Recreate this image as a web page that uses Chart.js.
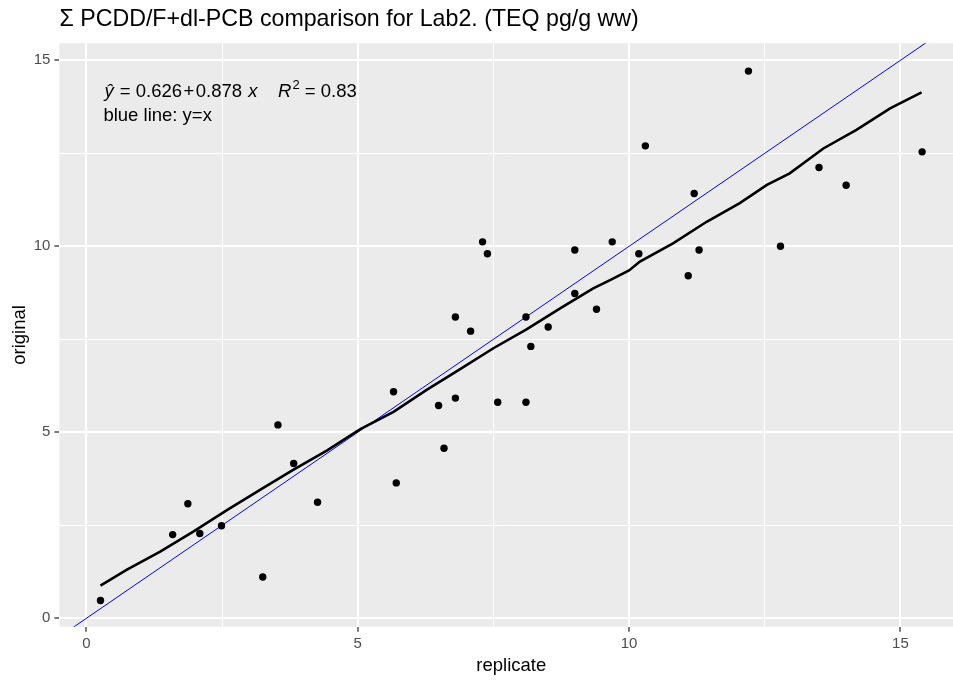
<!DOCTYPE html>
<html><head><meta charset="utf-8">
<script src="https://cdn.jsdelivr.net/npm/chart.js@4"></script>
<style>html,body{margin:0;padding:0;background:#fff;overflow:hidden;width:953px;height:680px}canvas{display:block}</style>
</head><body>
<canvas id="c" width="972" height="680"></canvas>
<script>
const titleText = 'Σ PCDD/F+dl-PCB comparison for Lab2. (TEQ pg/g ww)';
const xAxisTitle = 'replicate';
const yAxisTitle = 'original';
const replicate = [0.26, 1.59, 1.87, 2.09, 2.49, 3.25, 3.53, 3.82, 4.26, 5.66, 5.71, 6.49, 6.59, 6.80, 6.80, 7.08, 7.30, 7.39, 7.58, 8.10, 8.10, 8.19, 8.51, 9.00, 9.00, 9.40, 9.69, 10.18, 10.30, 11.09, 11.20, 11.29, 12.20, 12.79, 13.50, 14.00, 15.40];
const original  = [0.48, 2.25, 3.08, 2.28, 2.49, 1.11, 5.20, 4.16, 3.12, 6.09, 3.64, 5.72, 4.57, 5.92, 8.10, 7.72, 10.12, 9.80, 5.81, 5.81, 8.10, 7.31, 7.83, 9.90, 8.73, 8.31, 10.12, 9.80, 12.70, 9.21, 11.42, 9.90, 14.71, 10.00, 12.12, 11.64, 12.54];
const smoothX = [0.26, 0.74, 1.36, 1.97, 2.59, 3.20, 3.81, 4.43, 5.04, 5.66, 6.27, 6.88, 7.50, 8.11, 8.73, 9.34, 9.65, 10.00, 10.20, 10.81, 11.43, 12.04, 12.54, 12.96, 13.58, 14.19, 14.81, 15.39];
const smoothY = [0.88, 1.30, 1.79, 2.33, 2.91, 3.45, 3.99, 4.51, 5.08, 5.55, 6.14, 6.69, 7.26, 7.77, 8.33, 8.87, 9.09, 9.35, 9.59, 10.08, 10.66, 11.16, 11.65, 11.96, 12.63, 13.13, 13.71, 14.14];
const identityLine = [-1, 17];
const majorTicks = [0, 5, 10, 15];
const minorTicks = [2.5, 7.5, 12.5];
const xRange = [-0.497, 16.157];
const yRange = [-0.228, 15.46];
const eqIntercept = '0.626', eqSlope = '0.878', rSquared = '0.83';
const noteText = 'blue line: y=x';

const FONT = '"Liberation Sans", Arial, Helvetica, sans-serif';
const allTicks = majorTicks.concat(minorTicks).sort((a, b) => a - b);
const isMajor = v => majorTicks.includes(v);

const decor = {
  id: 'decor',
  beforeDraw(chart) {
    const {ctx, chartArea: a} = chart;
    ctx.save();
    ctx.fillStyle = '#ffffff';
    ctx.fillRect(0, 0, chart.width, chart.height);
    ctx.fillStyle = '#EBEBEB';
    ctx.fillRect(a.left, a.top, a.right - a.left, a.bottom - a.top);
    ctx.restore();
  },
  afterDraw(chart) {
    const {ctx, chartArea: a} = chart;
    ctx.save();
    ctx.fillStyle = '#000';
    ctx.textBaseline = 'alphabetic';
    ctx.textAlign = 'left';
    ctx.font = `23.2px ${FONT}`;
    ctx.fillText(titleText, a.left, 26);

    const reg = `18.5px ${FONT}`, ita = `italic 18.5px ${FONT}`, sup = `13px ${FONT}`;
    let cx = a.left + 45;
    let base = a.top + 53.5;
    const seg = (t, f, dy = 0, gap = 0) => { ctx.font = f; ctx.fillText(t, cx, base + dy); cx += ctx.measureText(t).width + gap; };
    seg('ŷ', ita, 0, 1);
    seg(' = ' + eqIntercept, reg, 0, 1.5);
    seg('+', reg, 0, 1.5);
    seg(eqSlope + ' ', reg, 0, 1);
    seg('x', ita);
    seg('    ', reg, 0, 0);
    seg('R', ita, 0, 1);
    seg('2', sup, -8);
    seg(' = ' + rSquared, reg);

    cx = a.left + 44;
    base = a.top + 77.5;
    seg(noteText, reg);
    ctx.restore();
  }
};

function gridOpts() {
  return {
    color: '#ffffff',
    lineWidth: c => (c.tick && isMajor(c.tick.value)) ? 2 : 1,
    tickColor: c => (c.tick && isMajor(c.tick.value)) ? '#333333' : 'rgba(0,0,0,0)',
    tickLength: 5,
    tickWidth: 1.3,
    drawTicks: true
  };
}

new Chart(document.getElementById('c'), {
  type: 'scatter',
  data: {
    datasets: [
      {
        label: 'points',
        data: replicate.map((x, i) => ({x, y: original[i]})),
        backgroundColor: '#000', borderColor: '#000', borderWidth: 0,
        pointRadius: 3.7, order: 0
      },
      {
        label: 'smooth',
        data: smoothX.map((x, i) => ({x, y: smoothY[i]})),
        showLine: true, borderColor: '#000', borderWidth: 2.6,
        pointRadius: 0, tension: 0, order: 1
      },
      {
        label: 'y=x',
        data: identityLine.map(v => ({x: v, y: v})),
        showLine: true, borderColor: '#0000FF', borderWidth: 1,
        pointRadius: 0, order: 2
      }
    ]
  },
  options: {
    responsive: false,
    animation: false,
    devicePixelRatio: 1,
    layout: { padding: { top: 43.2, right: 8.8, left: 0, bottom: 0 } },
    plugins: { legend: { display: false }, tooltip: { enabled: false }, title: { display: false } },
    scales: {
      x: {
        type: 'linear', min: xRange[0], max: xRange[1],
        afterBuildTicks: s => { s.ticks = allTicks.map(v => ({value: v})); },
        afterFit: s => { s.height = 53.2; },
        grid: gridOpts(),
        border: { display: false },
        ticks: {
          callback: v => isMajor(v) ? String(v) : '',
          color: '#4D4D4D', font: { family: FONT, size: 15 },
          padding: 3, autoSkip: false, maxRotation: 0
        },
        title: { display: true, text: xAxisTitle, color: '#000',
                 font: { family: FONT, size: 18.5, lineHeight: 1.2 }, padding: { top: 0, bottom: 3 } }
      },
      y: {
        type: 'linear', min: yRange[0], max: yRange[1],
        afterBuildTicks: s => { s.ticks = allTicks.map(v => ({value: v})); },
        afterFit: s => { s.width = 59.4; },
        grid: gridOpts(),
        border: { display: false },
        ticks: {
          callback: v => isMajor(v) ? String(v) : '',
          color: '#4D4D4D', font: { family: FONT, size: 15 },
          padding: 4, autoSkip: false
        },
        title: { display: true, text: yAxisTitle, color: '#000',
                 font: { family: FONT, size: 18.5, lineHeight: 1.2 }, padding: { top: 8.5, bottom: 0 } }
      }
    }
  },
  plugins: [decor]
});
</script>
</body></html>
